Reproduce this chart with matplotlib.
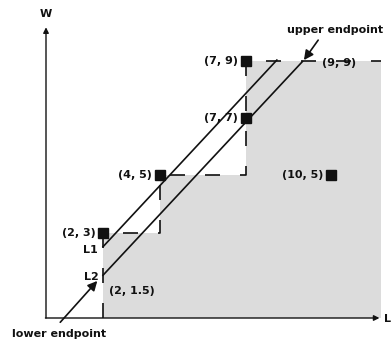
import matplotlib
matplotlib.use("Agg")
import matplotlib.pyplot as plt
from matplotlib.patches import Polygon

# Skyline points (marked with squares)
pt_x = [2, 4, 7, 7, 10]
pt_y = [3, 5, 9, 7, 5]
pt_labels = ["(2, 3)", "(4, 5)", "(7, 9)", "(7, 7)", "(10, 5)"]

# Dominance staircase through the skyline points
stair_x = [2, 2, 4, 4, 7, 7, 11.75]
stair_y = [0, 3, 3, 5, 5, 9, 9]

# Query segments
l2_x = [2, 9]
l2_y = [1.5, 9]
l1_x = [2, 8.1]
l1_y = [2.5, 9.05]

X_MAX = 11.75
Y_MAX = 10.2

fig = plt.figure(figsize=(3.92, 3.44), dpi=100)
ax = fig.add_axes([0, 0, 1, 1])
ax.set_xlim(-46 / 28.5, (392 - 46) / 28.5)
ax.set_ylim(-26 / 28.5, 318 / 28.5)
ax.axis("off")

bold = dict(fontsize=8, fontweight="bold", family="DejaVu Sans", color="#111111")

# shaded dominated region below the staircase
poly_pts = list(zip(stair_x, stair_y)) + [(X_MAX, 0)]
ax.add_patch(Polygon(poly_pts, closed=True, facecolor="#dcdcdc",
                     edgecolor="none", zorder=0))

# staircase boundary, dashed
ax.plot(stair_x, stair_y, color="#111111", lw=1.2,
        linestyle=(0, (9, 12)), zorder=2)

# the two segments
ax.plot(l1_x, l1_y, color="#111111", lw=1.2, zorder=3)
ax.plot(l2_x, l2_y, color="#111111", lw=1.2, zorder=3)

# axes with arrows
ax.annotate("", xy=(0, Y_MAX), xytext=(0, 0),
            arrowprops=dict(arrowstyle="-|>", color="#111111", lw=1.0,
                            mutation_scale=8, shrinkA=0, shrinkB=0))
ax.annotate("", xy=(X_MAX - 0.05, 0), xytext=(-0.02, 0),
            arrowprops=dict(arrowstyle="-|>", color="#111111", lw=1.0,
                            mutation_scale=8, shrinkA=0, shrinkB=0))
ax.text(0, 10.65, "W", ha="center", va="center", **bold)
ax.text((391 - 46) / 28.5, -0.05, "L", ha="right", va="center", **bold)

# skyline points
ax.plot(pt_x, pt_y, linestyle="none", marker="s", markersize=7,
        color="#111111", zorder=4)
for x, y, s in zip(pt_x, pt_y, pt_labels):
    ax.text(x - 0.27, y, s, ha="right", va="center", **bold)

# segment labels
ax.text(1.8, l1_y[0] - 0.1, "L1", ha="right", va="center", **bold)
ax.text(1.85, l2_y[0] - 0.05, "L2", ha="right", va="center", **bold)
ax.text(2.2, 0.95, "(2, 1.5)", ha="left", va="center", **bold)
ax.text(9.7, 8.95, "(9, 9)", ha="left", va="center", **bold)

# endpoint annotations
ax.annotate("", xy=(l2_x[1] + 0.05, l2_y[1] + 0.05), xytext=(9.55, 9.75),
            arrowprops=dict(arrowstyle="-|>", color="#111111", lw=1.2,
                            mutation_scale=14, shrinkA=0, shrinkB=0))
ax.text(10.15, 10.1, "upper endpoint", ha="center", va="center", **bold)
ax.annotate("", xy=(l2_x[0] - 0.2, l2_y[0] - 0.2), xytext=(0.5, -0.15),
            arrowprops=dict(arrowstyle="-|>", color="#111111", lw=1.2,
                            mutation_scale=14, shrinkA=0, shrinkB=0))
ax.text(0.45, -0.55, "lower endpoint", ha="center", va="center", **bold)

fig.savefig("out.png", dpi=100)
